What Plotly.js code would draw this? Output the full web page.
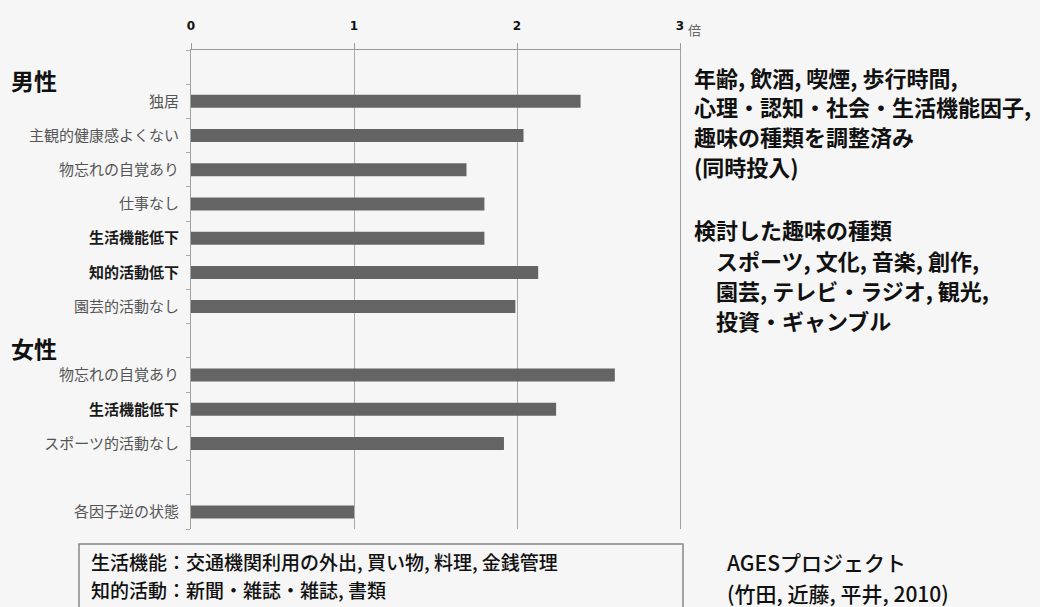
<!DOCTYPE html>
<html>
<head>
<meta charset="utf-8">
<script src="https://cdn.plot.ly/plotly-3.0.1.min.js"></script>
<style>
  html, body { margin: 0; padding: 0; background: #f6f6f6; }
  #chart { width: 1040px; height: 607px; }
</style>
</head>
<body>
<div id="chart"></div>
<script>
// ---- data ----
const groupTitles = ['男性', '女性'];
const maleLabels = ['独居', '主観的健康感よくない', '物忘れの自覚あり', '仕事なし', '生活機能低下', '知的活動低下', '園芸的活動なし'];
const maleValues = [2.39, 2.04, 1.69, 1.80, 1.80, 2.13, 1.99];
const femaleLabels = ['物忘れの自覚あり', '生活機能低下', 'スポーツ的活動なし'];
const femaleValues = [2.60, 2.24, 1.92];
const refLabels = ['各因子逆の状態'];
const refValues = [1.0];
const boldLabels = ['生活機能低下', '知的活動低下'];
const xTickVals = [0, 1, 2, 3];
const xTickText = ['0', '1', '2', '3'];
const unitLabel = '倍';
const noteLines = [
  '年齢, 飲酒, 喫煙, 歩行時間,',
  '心理・認知・社会・生活機能因子,',
  '趣味の種類を調整済み',
  '(同時投入)',
  '',
  '検討した趣味の種類',
  '　スポーツ, 文化, 音楽, 創作,',
  '　園芸, テレビ・ラジオ, 観光,',
  '　投資・ギャンブル'
];
const definitionLines = [
  '生活機能：交通機関利用の外出, 買い物, 料理, 金銭管理',
  '知的活動：新聞・雑誌・雑誌, 書類'
];
const creditLines = ['AGESプロジェクト', '(竹田, 近藤, 平井, 2010)'];

// ---- build rows (heading slots, bars, spacer) ----
const rows = [];
rows.push({ id: 'h0', label: '', value: null });
maleLabels.forEach((l, i) => rows.push({ id: 'm' + i, label: l, value: maleValues[i] }));
rows.push({ id: 'h1', label: '', value: null });
femaleLabels.forEach((l, i) => rows.push({ id: 'f' + i, label: l, value: femaleValues[i] }));
rows.push({ id: 'gap', label: '', value: null });
refLabels.forEach((l, i) => rows.push({ id: 'r' + i, label: l, value: refValues[i] }));

const bars = rows.filter(r => r.value !== null);
const tickText = rows.map(r => boldLabels.includes(r.label)
  ? '<span style="color:#1a1a1a"><b>' + r.label + '</b></span>' : r.label);

// ---- geometry helpers (layout only) ----
const W = 1040, H = 607;
const M = { l: 191, r: 360, t: 50, b: 78 };
const pw = W - M.l - M.r, ph = H - M.t - M.b;
const px2x = px => (px - M.l) / pw;
const px2y = py => (H - M.b - py) / ph;

const JP = '"Noto Sans CJK JP", "Noto Sans", sans-serif';

const annotations = [];
annotations.push({ xref: 'paper', yref: 'paper', x: px2x(9), y: px2y(80), xanchor: 'left', yanchor: 'middle',
  text: '<b>' + groupTitles[0] + '</b>', showarrow: false, font: { family: JP, size: 23, color: '#111' } });
annotations.push({ xref: 'paper', yref: 'paper', x: px2x(9), y: px2y(348), xanchor: 'left', yanchor: 'middle',
  text: '<b>' + groupTitles[1] + '</b>', showarrow: false, font: { family: JP, size: 23, color: '#111' } });
annotations.push({ xref: 'paper', yref: 'paper', x: px2x(686), y: px2y(30), xanchor: 'left', yanchor: 'middle',
  text: unitLabel, showarrow: false, font: { family: JP, size: 13, color: '#666' } });

const noteY = [77, 106, 136, 166, 196, 229, 260, 290, 320];
noteLines.forEach((t, i) => {
  if (!t) return;
  annotations.push({ xref: 'paper', yref: 'paper', x: px2x(692), y: px2y(noteY[i]), xanchor: 'left', yanchor: 'middle',
    text: '<b>' + t + '</b>', showarrow: false, font: { family: JP, size: 22, color: '#111' } });
});
const defY = [561, 589];
definitionLines.forEach((t, i) => {
  annotations.push({ xref: 'paper', yref: 'paper', x: px2x(89), y: px2y(defY[i]), xanchor: 'left', yanchor: 'middle',
    text: t, showarrow: false, font: { family: JP, size: 19, color: '#111', weight: 500 } });
});
const credY = [562, 593];
creditLines.forEach((t, i) => {
  annotations.push({ xref: 'paper', yref: 'paper', x: px2x(725), y: px2y(credY[i]), xanchor: 'left', yanchor: 'middle',
    text: t, showarrow: false, font: { family: JP, size: 21, color: '#111', weight: 500 } });
});

const trace = {
  type: 'bar',
  orientation: 'h',
  x: bars.map(r => r.value),
  y: bars.map(r => r.id),
  marker: { color: '#646464' },
  hoverinfo: 'x'
};

const layout = {
  width: W, height: H,
  margin: { l: M.l, r: M.r, t: M.t, b: M.b, pad: 0 },
  paper_bgcolor: '#f6f6f6',
  plot_bgcolor: '#f6f6f6',
  showlegend: false,
  bargap: 0.62,
  font: { family: JP, color: '#555' },
  xaxis: {
    side: 'top',
    range: [0, 3],
    tickvals: xTickVals,
    ticktext: xTickText.map(t => '<b>' + t + '</b>'),
    tickfont: { family: '"DejaVu Sans", sans-serif', size: 12, color: '#111' },
    ticks: 'outside', ticklen: 6, tickcolor: '#999',
    ticklabelstandoff: 8,
    showline: true, linecolor: '#999', linewidth: 1,
    showgrid: true, gridcolor: '#aaa', gridwidth: 1,
    zeroline: false,
    fixedrange: true
  },
  yaxis: {
    type: 'category',
    categoryorder: 'array',
    categoryarray: rows.map(r => r.id),
    tickvals: rows.map(r => r.id),
    ticktext: tickText,
    range: [rows.length - 0.5, -0.5],
    tickson: 'boundaries',
    ticks: 'outside', ticklen: 4, tickcolor: '#aaa',
    ticklabelstandoff: 8,
    tickfont: { family: JP, size: 15, color: '#555' },
    showline: true, mirror: true, linecolor: '#a0a0a0', linewidth: 1,
    showgrid: false,
    zeroline: false,
    fixedrange: true
  },
  shapes: [{
    type: 'rect', xref: 'paper', yref: 'paper',
    x0: px2x(79), x1: px2x(683), y0: px2y(620), y1: px2y(544),
    line: { color: '#888', width: 1.5 }, fillcolor: 'rgba(0,0,0,0)'
  }],
  annotations: annotations
};

Plotly.newPlot('chart', [trace], layout, { displayModeBar: false, staticPlot: true });
</script>
</body>
</html>
